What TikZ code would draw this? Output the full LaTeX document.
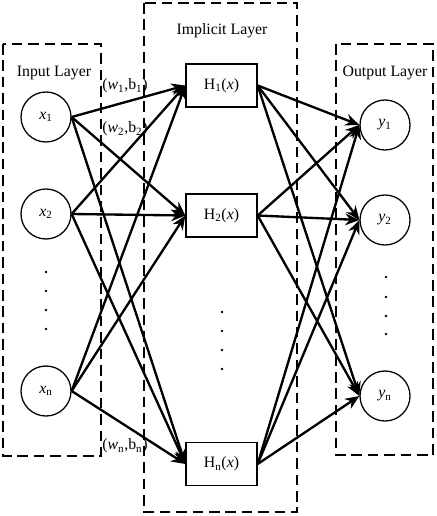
\documentclass[tikz,border=0pt]{standalone}
\usepackage{fontspec}
\setmainfont{Liberation Serif}
\usetikzlibrary{arrows.meta}

\begin{document}
\begin{tikzpicture}[
    x=0.03cm, y=-0.03cm,
    every node/.style={font=\fontsize{13.5}{15}\selectfont},
    neuron/.style={circle, draw, line width=1.1pt, minimum size=1.5cm, inner sep=0pt},
    hidden/.style={rectangle, draw, line width=1.1pt, minimum width=2.13cm, minimum height=1.29cm, inner sep=0pt},
    layer/.style={draw, dash pattern=on 9pt off 5pt, line width=2pt},
    link/.style={line width=2pt, -{Stealth[length=12pt,width=10pt]}},
    ]
    \useasboundingbox (0,0) rectangle (436,516);

    % Layer frames
    \draw[layer] (3,44) rectangle (101,456);
    \draw[layer] (144,3) rectangle (297,512);
    \draw[layer] (336,44) rectangle (433,455);

    % Layer titles
    \node (inlabel) at (54,73) {Input Layer};
    \node (hidlabel) at (222,31) {Implicit Layer};
    \node (outlabel) at (385,73) {Output Layer};

    % Input layer
    \node[neuron] (x1) at (46,117) {\textit{x}\textsubscript{1}};
    \node[neuron] (x2) at (46,214) {\textit{x}\textsubscript{2}};
    \node[neuron] (xn) at (46,391) {\textit{x}\textsubscript{n}};
    \foreach \y in {272,291,310,329} {
        \fill (46,\y) circle (1.2pt);
    }

    % Implicit layer
    \node[hidden] (h1) at (221.5,85.5) {H\textsubscript{1}(\textit{x})};
    \node[hidden] (h2) at (221.5,215.5) {H\textsubscript{2}(\textit{x})};
    \node[hidden] (hn) at (221.5,464) {H\textsubscript{n}(\textit{x})};
    \foreach \y in {312,331,350,369} {
        \fill (222,\y) circle (1.2pt);
    }

    % Output layer
    \node[neuron] (y1) at (385,125) {\textit{y}\textsubscript{1}};
    \node[neuron] (y2) at (385,220) {\textit{y}\textsubscript{2}};
    \node[neuron] (yn) at (385,396) {\textit{y}\textsubscript{n}};
    \foreach \y in {277,297,316,334} {
        \fill (386,\y) circle (1.2pt);
    }

    % Weights and biases
    \node[anchor=west, inner sep=1pt] (wb1) at (101,86) {(\textit{w}\textsubscript{1},b\textsubscript{1})};
    \node[anchor=west, inner sep=1pt] (wb2) at (101,129) {(\textit{w}\textsubscript{2},b\textsubscript{2})};
    \node[anchor=west, inner sep=1pt] (wbn) at (101,446) {(\textit{w}\textsubscript{n},b\textsubscript{n})};

    % Connections
    \foreach \i in {1,2,n} {
        \foreach \j in {1,2,n} {
            \draw[link] (x\i.east) -- (h\j.west);
            \draw[link] (h\i.east) -- (y\j.west);
        }
    }

\end{tikzpicture}
\end{document}
